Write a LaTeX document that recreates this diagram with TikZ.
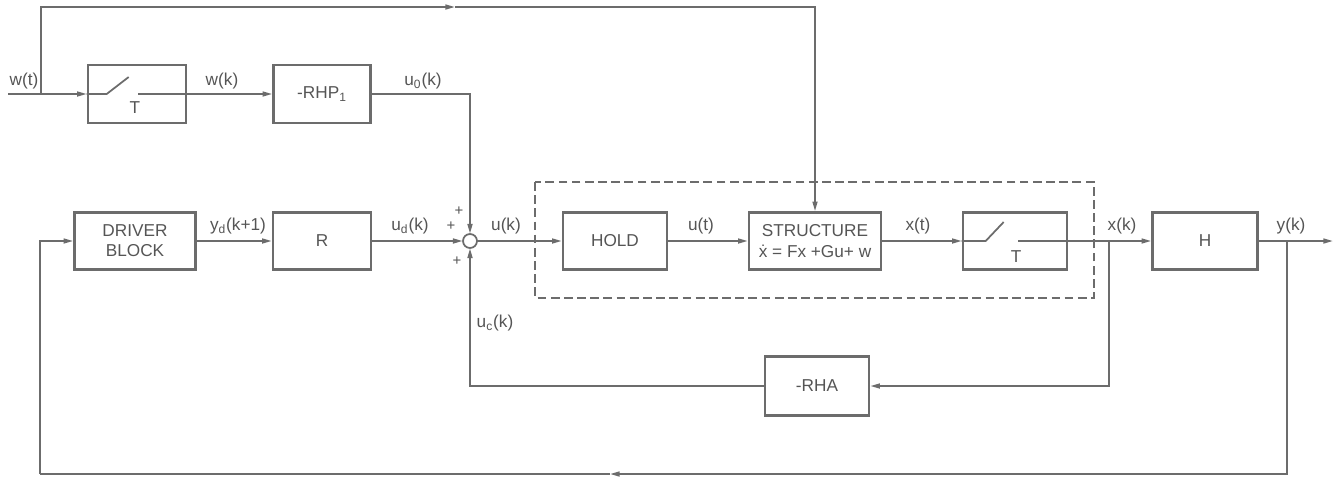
\documentclass[tikz,border=0pt]{standalone}
\usepackage{fontspec}
\setmainfont{Liberation Sans}
\usetikzlibrary{arrows.meta}

\definecolor{lncol}{HTML}{6C6C6C}
\definecolor{txcol}{HTML}{555555}

\tikzset{
  blk/.style={draw=lncol,line width=1.5pt,minimum height=1.14cm,inner sep=0pt,text=txcol,align=center},
  sig/.style={text=txcol,inner sep=1pt},
  pls/.style={text=txcol,inner sep=0pt,font=\fontsize{8.5}{9}\selectfont},
  wire/.style={draw=lncol,line width=1pt},
  arr/.style={wire,-{Triangle[length=5.5pt,width=2.8pt]}},
}

\begin{document}
\begin{tikzpicture}[x=0.02cm,y=-0.02cm,font=\fontsize{9.8}{11.5}\selectfont]
\useasboundingbox (0,0) rectangle (1333,477);
\node[blk,minimum width=1.96cm,minimum height=1.16cm] (smpA) at (137,94) {};
\node[blk,minimum width=1.94cm,minimum height=1.16cm] (rhp) at (322,94) {-RHP\textsubscript{1}};
\node[blk,minimum width=2.42cm] (drv) at (135,241) {DRIVER\\BLOCK};
\node[blk,minimum width=1.96cm] (r) at (322,241) {R};
\draw[wire] (470,241) circle (7);
\coordinate (sum) at (470,241);
\node[circle,minimum size=0.28cm,inner sep=0pt] (sumc) at (sum) {};
\node[blk,minimum width=2.08cm] (hold) at (615,241) {HOLD};
\node[blk,minimum width=2.64cm] (struct) at (815,241) {STRUCTURE\\\.x = Fx +Gu+ w};
\node[blk,minimum width=2.08cm] (smpB) at (1015,241) {};
\node[blk,minimum width=2.1cm] (h) at (1205,241) {H};
\node[blk,minimum width=2.08cm,minimum height=1.18cm] (rha) at (817,386) {-RHA};

\draw[lncol,line width=1pt,dash pattern=on 5pt off 2.5pt] (535,182) rectangle (1094,298);

\draw[wire] (smpA.west) -- ++(20,0) -- ++(22,-17);
\draw[wire] (smpA.east) -- ++(-49,0);
\node[sig] (tA) at (135,108) {T};
\draw[wire] (smpB.west) -- ++(24,0) -- ++(18,-19);
\draw[wire] (smpB.east) -- ++(-50,0);
\node[sig] (tB) at (1016,257) {T};

\coordinate (win) at (8,94);
\coordinate (wbr) at (41,94);
\coordinate (topM) at (455,7);
\coordinate (xbr) at (1109,241);
\coordinate (ybr) at (1287,241);
\coordinate (yout) at (1333,241);
\coordinate (botM) at (610,474);
\coordinate (fbL) at (40,474);

\draw[arr] (win) -- (smpA.west);
\draw[arr] (wbr) |- (topM);
\draw[arr] (topM) -| (struct.north);
\draw[arr] (smpA.east) -- (rhp.west);
\draw[arr] (rhp.east) -| (sumc.north);
\draw[arr] (drv.east) -- (r.west);
\draw[arr] (r.east) -- (sumc.west);
\draw[arr] (sumc.east) -- (hold.west);
\draw[arr] (hold.east) -- (struct.west);
\draw[arr] (struct.east) -- (smpB.west);
\draw[arr] (smpB.east) -- (h.west);
\draw[arr] (h.east) -- (yout);
\draw[arr] (xbr) |- (rha.east);
\draw[arr] (rha.west) -| (sumc.south);
\draw[arr] (ybr) |- (botM);
\draw[wire] (botM) -- (fbL);
\draw[arr] (fbL) |- (drv.west);

\node[sig] (lwt) at (24,81) {w(t)};
\node[sig] (lwk) at (222,81) {w(k)};
\node[sig] (luo) at (423,81) {u\textsubscript{0}(k)};
\node[sig] (lyd) at (238,226) {y\textsubscript{d}(k+1)};
\node[sig] (lud) at (410,226) {u\textsubscript{d}(k)};
\node[sig] (luk) at (506,226) {u(k)};
\node[sig] (lut) at (701,226) {u(t)};
\node[sig] (lxt) at (918,226) {x(t)};
\node[sig] (lxk) at (1122,226) {x(k)};
\node[sig] (lyk) at (1291,226) {y(k)};
\node[sig] (luc) at (495,323) {u\textsubscript{c}(k)};
\node[pls] (p1) at (459,211) {+};
\node[pls] (p2) at (451,226) {+};
\node[pls] (p3) at (457,261) {+};
\end{tikzpicture}
\end{document}
